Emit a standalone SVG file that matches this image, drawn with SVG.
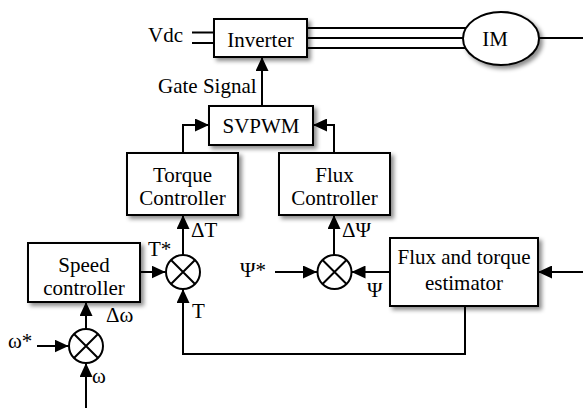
<svg xmlns="http://www.w3.org/2000/svg" width="583" height="408" viewBox="0 0 583 408">
<defs>
<marker id="ah" markerUnits="userSpaceOnUse" markerWidth="14" markerHeight="13" refX="14" refY="6.5" orient="auto">
<path d="M0,0 L14,6.5 L0,13 z" fill="#000"/>
</marker>
<filter id="sh" x="-10%" y="-10%" width="130%" height="140%">
<feDropShadow dx="3" dy="3" stdDeviation="2" flood-color="#000" flood-opacity="0.45"/>
</filter>
</defs>
<style>
.box{fill:#fff;stroke:#000;stroke-width:2;filter:url(#sh)}
.ln{fill:none;stroke:#000;stroke-width:2}
.ar{fill:none;stroke:#000;stroke-width:2;marker-end:url(#ah)}
.sum{fill:#fff;stroke:#000;stroke-width:2}
.t{font-family:'Liberation Serif','Times New Roman',serif;font-size:21px;fill:#000}
.c{text-anchor:middle}
</style>
<rect width="583" height="408" fill="#fff"/>
<g id="connectors">
<path class="ln" d="M192,32.5 H214 M192,43 H214"/>
<path class="ln" d="M307,28 H472 M307,38 H472 M307,48 H472"/>
<path class="ln" d="M539,38 H583"/>
<path class="ar" d="M262,106 V57"/>
<path class="ar" d="M183,153 V125 H209"/>
<path class="ar" d="M334,153 V125 H313"/>
<path class="ar" d="M183,255 V215"/>
<path class="ar" d="M334,255 V215"/>
<path class="ar" d="M140,272 H165.5"/>
<path class="ar" d="M465,306 V354 H183 V289"/>
<path class="ar" d="M275,272 H317"/>
<path class="ar" d="M390,272 H351.5"/>
<path class="ar" d="M583,272 H538"/>
<path class="ar" d="M86,329 V302"/>
<path class="ar" d="M37,346 H68.5"/>
<path class="ar" d="M86,408 V363"/>
</g>
<g id="inverter"><rect class="box" x="214" y="19" width="93" height="38"/><text class="t c" x="260.5" y="47">Inverter</text></g>
<g id="im"><ellipse class="box" cx="501" cy="38.5" rx="38" ry="26.5"/><text class="t c" x="495" y="46">IM</text></g>
<g id="svpwm"><rect class="box" x="209" y="106" width="104" height="39"/><text class="t c" x="261" y="133">SVPWM</text></g>
<g id="torque-controller"><rect class="box" x="127" y="153" width="111" height="62"/><text class="t c" x="182.5" y="182">Torque</text><text class="t c" x="182.5" y="205">Controller</text></g>
<g id="flux-controller"><rect class="box" x="279" y="153" width="111" height="62"/><text class="t c" x="334.5" y="182">Flux</text><text class="t c" x="334.5" y="205">Controller</text></g>
<g id="speed-controller"><rect class="box" x="28" y="243" width="112" height="59"/><text class="t c" x="84" y="271.5">Speed</text><text class="t c" x="84" y="295">controller</text></g>
<g id="estimator"><rect class="box" x="390" y="238" width="148" height="68"/><text class="t c" x="464" y="264">Flux and torque</text><text class="t c" x="464" y="290">estimator</text></g>
<g id="torque-sum"><circle class="sum" cx="183" cy="272" r="17"/><path class="ln" d="M171,260 L195,284 M195,260 L171,284"/></g>
<g id="flux-sum"><circle class="sum" cx="334.5" cy="272" r="17"/><path class="ln" d="M322.5,260 L346.5,284 M346.5,260 L322.5,284"/></g>
<g id="speed-sum"><circle class="sum" cx="86" cy="346" r="17"/><path class="ln" d="M74,334 L98,358 M98,334 L74,358"/></g>
<g id="labels">
<text class="t" x="148" y="42">Vdc</text>
<text class="t" x="158" y="93">Gate Signal</text>
<text class="t" x="191" y="237">ΔT</text>
<text class="t" x="342" y="237">ΔΨ</text>
<text class="t" x="148" y="256">T*</text>
<text class="t" x="192" y="318">T</text>
<text class="t" x="240" y="277">Ψ*</text>
<text class="t" x="367" y="297">Ψ</text>
<text class="t" x="106" y="322">Δω</text>
<text class="t" x="8" y="348">ω*</text>
<text class="t" x="92" y="383">ω</text>
</g>
</svg>
